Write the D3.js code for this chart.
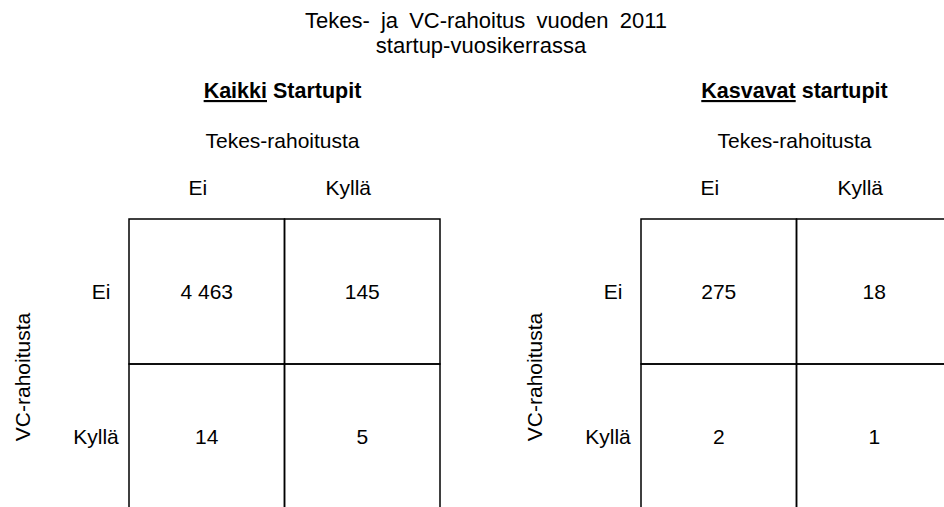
<!DOCTYPE html>
<html>
<head>
<meta charset="utf-8">
<script src="https://cdn.jsdelivr.net/npm/d3@7"></script>
<style>
  body { margin: 0; background: #fff; }
  svg text { font-family: "Liberation Sans", Arial, sans-serif; fill: #000; }
</style>
</head>
<body>
<div id="chart"></div>
<script>
// data
var titleLines = ["Tekes- ja VC-rahoitus vuoden 2011", "startup-vuosikerrassa"];
var panelKeys = ["Kaikki", "Kasvavat"];
var panelRest = [" Startupit", " startupit"];
var colTitle = "Tekes-rahoitusta";
var rowTitle = "VC-rahoitusta";
var colLabels = ["Ei", "Kyllä"];
var rowLabels = ["Ei", "Kyllä"];
var kaikkiValues = [[4463, 145], [14, 5]];
var kasvavatValues = [[275, 18], [2, 1]];

var W = 944, H = 507;
var fi = d3.formatLocale({decimal: ",", thousands: " ", grouping: [3], currency: ["", " €"]});
var fmt = fi.format(",d");

var svg = d3.select("#chart").append("svg")
    .attr("width", W)
    .attr("height", H);

svg.append("g").selectAll("text")
    .data(titleLines)
    .enter().append("text")
    .attr("x", function(d, i) { return i ? 481 : 486; })
    .attr("y", function(d, i) { return 28 + i * 25; })
    .attr("text-anchor", "middle")
    .style("font-size", "22px")
    .style("word-spacing", function(d, i) { return i ? "0px" : "5px"; })
    .text(function(d) { return d; });

var panels = [
    {key: panelKeys[0], rest: panelRest[0], values: kaikkiValues, left: 129},
    {key: panelKeys[1], rest: panelRest[1], values: kasvavatValues, left: 641}
];

var cellW = 155.5, gridTop = 219, cellH = 145;
var colNudge = [-9, -14];
var rowNudge = [3, -2];

panels.forEach(function(p) {
    var x = d3.scaleBand().domain(colLabels).range([p.left, p.left + 2 * cellW]);
    var y = d3.scaleBand().domain(rowLabels).range([gridTop, gridTop + 2 * cellH]);
    var mid = x.range()[0] + cellW - 2;
    var g = svg.append("g");

    // header
    var h = g.append("text")
        .attr("x", mid)
        .attr("y", 98)
        .attr("text-anchor", "middle")
        .style("font-size", "21.5px")
        .style("font-weight", "bold");
    h.append("tspan").style("text-decoration", "underline").text(p.key);
    h.append("tspan").text(p.rest);

    g.append("text")
        .attr("x", mid)
        .attr("y", 148)
        .attr("text-anchor", "middle")
        .style("font-size", "21px")
        .text(colTitle);

    g.selectAll(".col-label")
        .data(colLabels)
        .enter().append("text")
        .attr("class", "col-label")
        .attr("x", function(d, i) { return x(d) + x.bandwidth() / 2 + colNudge[i]; })
        .attr("y", 195)
        .attr("text-anchor", "middle")
        .style("font-size", "21px")
        .text(function(d) { return d; });

    g.selectAll(".row-label")
        .data(rowLabels)
        .enter().append("text")
        .attr("class", "row-label")
        .attr("x", function(d, i) { return x.range()[0] - 31 + rowNudge[i]; })
        .attr("y", function(d) { return y(d) + y.bandwidth() / 2 + 7.5; })
        .attr("text-anchor", "middle")
        .style("font-size", "21px")
        .text(function(d) { return d; });

    g.append("text")
        .attr("transform", "translate(" + (x.range()[0] - 99) + "," + (gridTop + cellH + 13) + ") rotate(-90)")
        .attr("text-anchor", "middle")
        .style("font-size", "21px")
        .text(rowTitle);

    var cells = [];
    p.values.forEach(function(row, ri) {
        row.forEach(function(v, ci) {
            cells.push({row: rowLabels[ri], col: colLabels[ci], value: v});
        });
    });

    g.selectAll("rect")
        .data(cells)
        .enter().append("rect")
        .attr("x", function(d) { return x(d.col); })
        .attr("y", function(d) { return y(d.row); })
        .attr("width", x.bandwidth())
        .attr("height", y.bandwidth())
        .attr("fill", "none")
        .attr("stroke", "#000")
        .attr("stroke-width", 1.5);

    g.selectAll(".val")
        .data(cells)
        .enter().append("text")
        .attr("class", "val")
        .attr("x", function(d) { return x(d.col) + x.bandwidth() / 2; })
        .attr("y", function(d) { return y(d.row) + y.bandwidth() / 2 + 7.5; })
        .attr("text-anchor", "middle")
        .style("font-size", "21px")
        .text(function(d) { return fmt(d.value); });
});
</script>
</body>
</html>
